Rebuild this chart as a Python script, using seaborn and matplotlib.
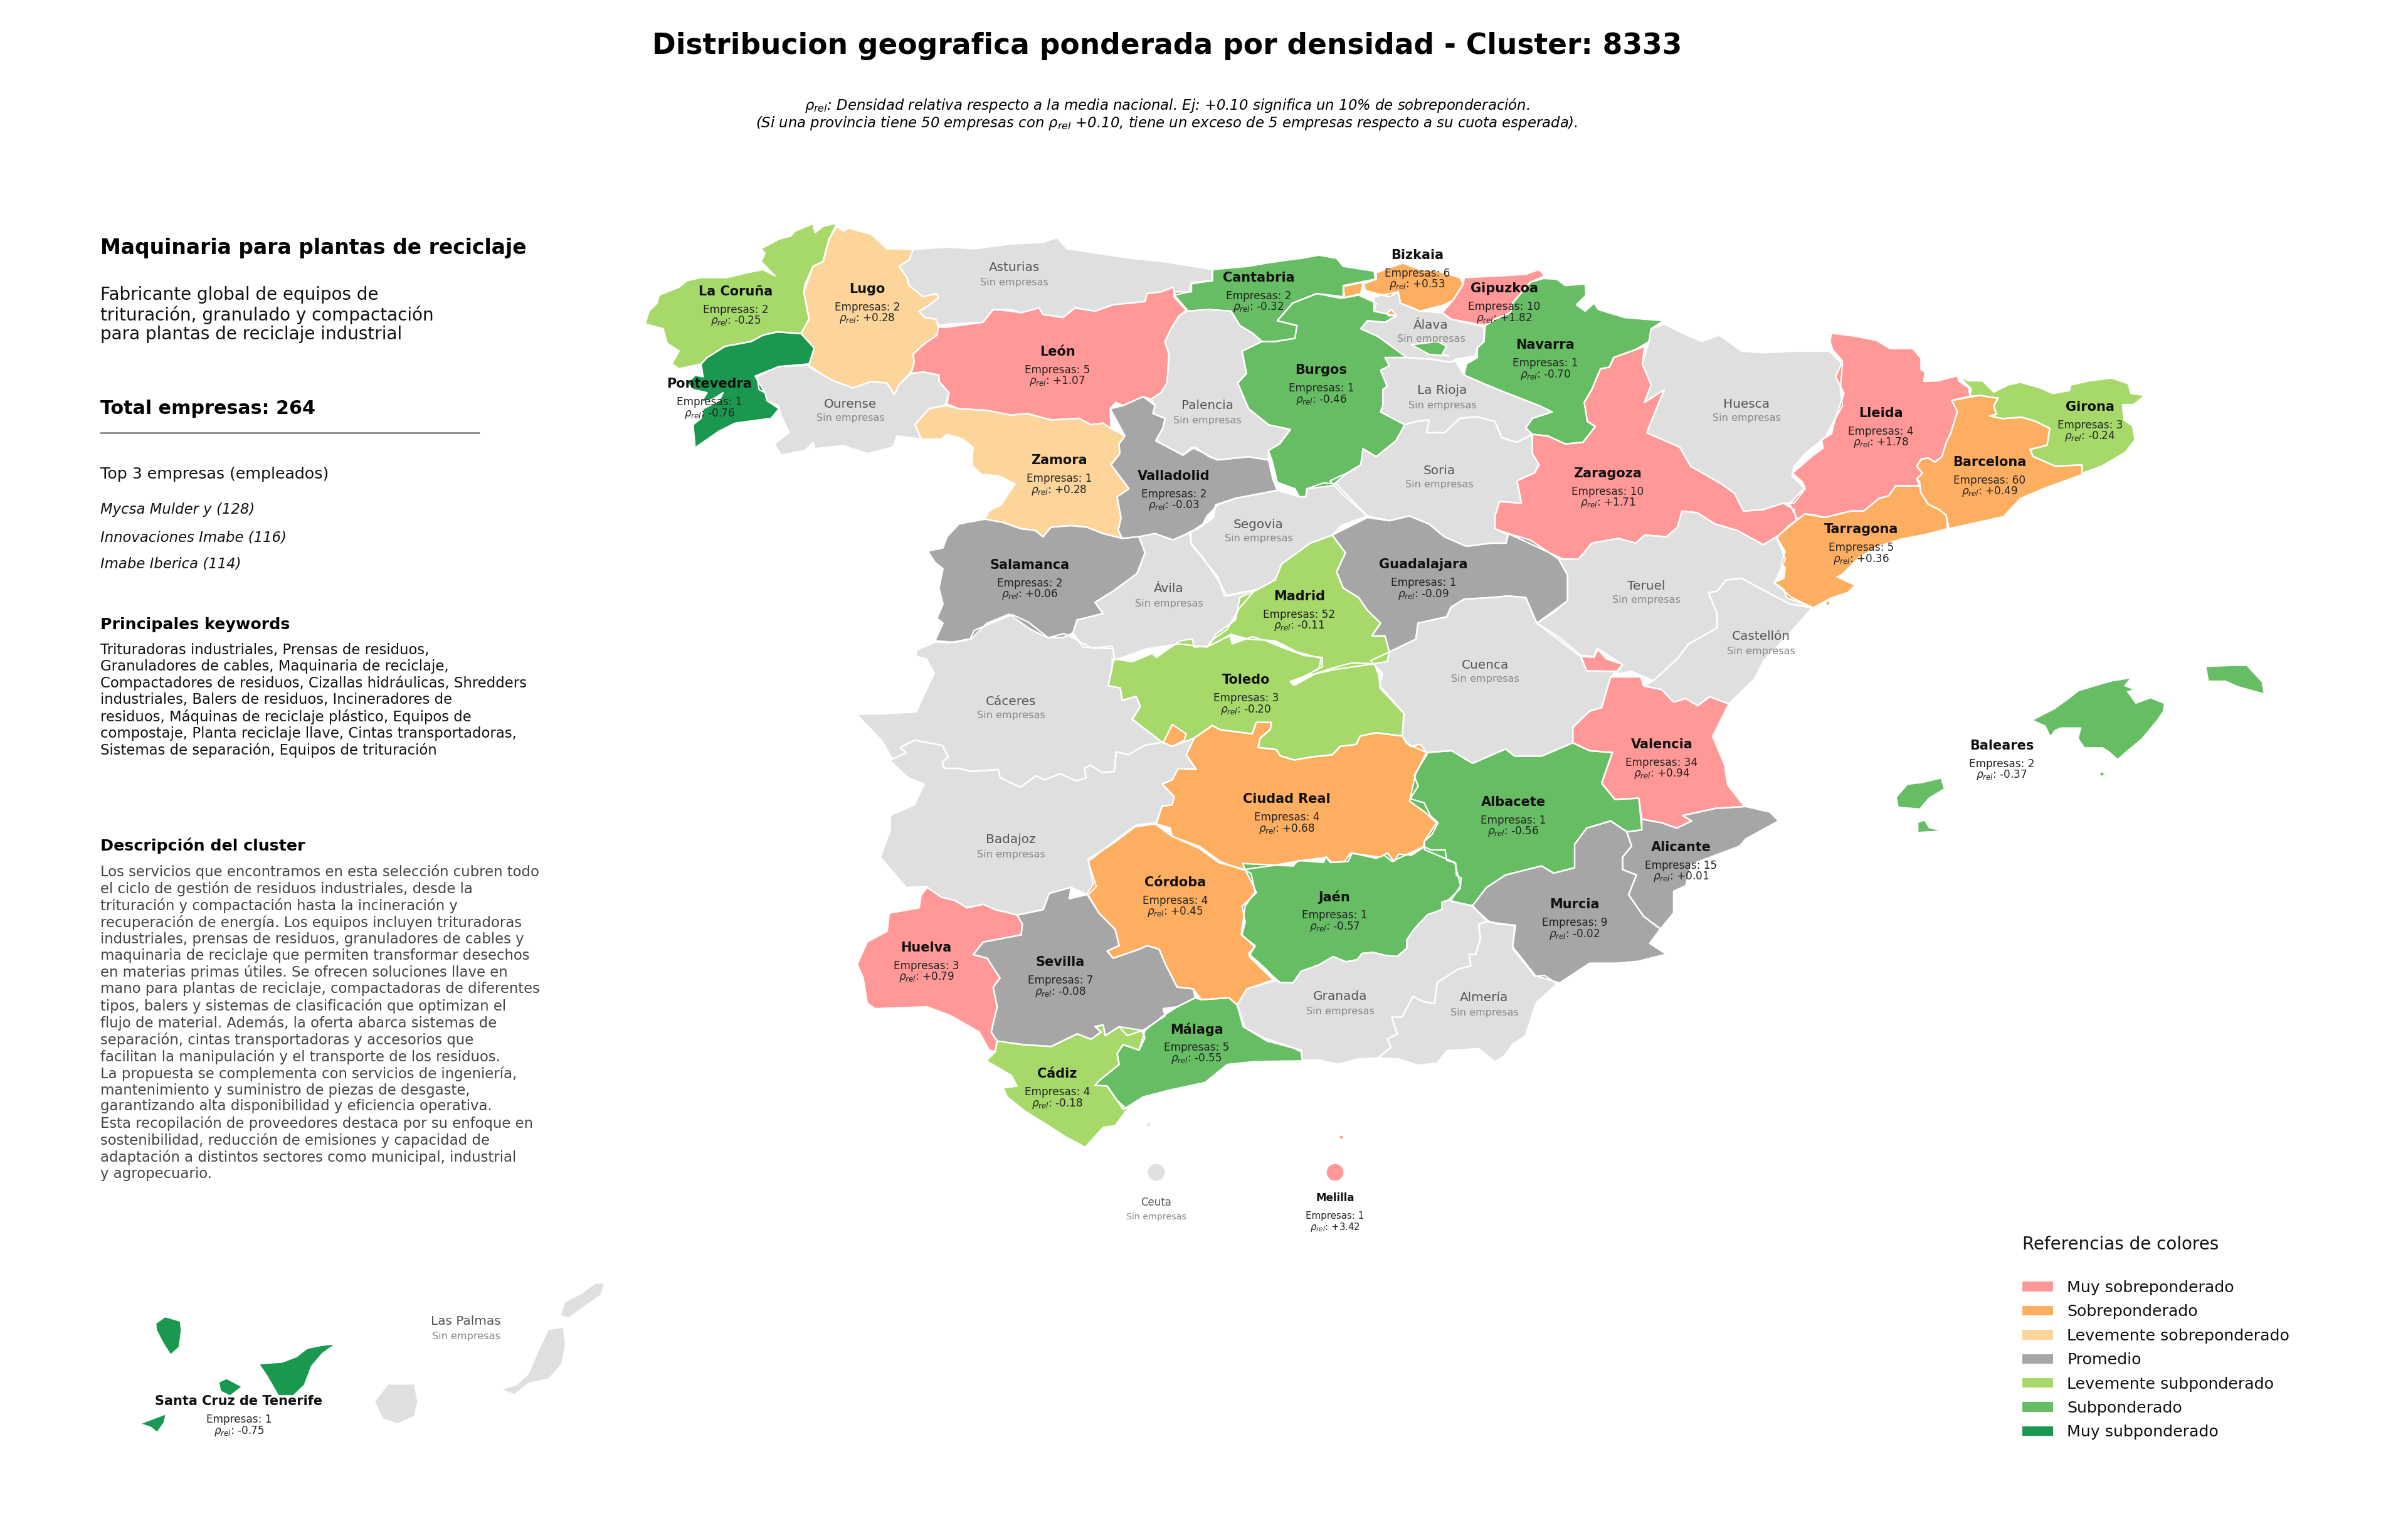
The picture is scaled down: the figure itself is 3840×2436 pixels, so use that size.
"""Choropleth of Spanish provinces: relative company density for cluster 8333."""

import matplotlib
matplotlib.use('Agg')
import matplotlib.pyplot as plt
from matplotlib.patches import Patch
import pandas as pd
import seaborn as sns

NW = (1000, 320, 1.568, 1.96)
NE = (1900, 320, 1.4255, 1.96)
SW = (1300, 1100, 1.568, 1.742)
SE = (2200, 950, 1.045, 1.742)
CT = (2800, 500, 2.24, 2.24)
MID = (1340, 950, 1.568, 3.0)
SO = (1950, 1300, 1.96, 3.0)
CAN = (100, 1330, 1.742, 1.493)


def crop(frame, pts):
    x0, y0, sx, sy = frame
    return [(x0 + x / sx, y0 + y / sy) for x, y in pts]


LA_CORUNA = crop(NW, [(525,70),(505,120),(490,190),(465,205),(445,260),(442,285),(455,370),(435,415),(375,410),(340,420),(310,440),(245,455),(200,490),(185,510),(130,525),(112,510),(130,470),(100,445),(90,400),(45,385),(55,345),(75,320),(80,295),(130,270),(150,250),(185,240),(250,240),(300,225),(340,215),(370,235),(335,190),(345,165),(335,150),(380,120),(410,110),(420,95),(465,72),(470,100),(490,80)])
LUGO = crop(NW, [(525,80),(540,95),(555,85),(580,95),(610,105),(650,150),(715,152),(705,185),(680,205),(700,240),(705,265),(740,300),(775,290),(778,305),(745,335),(730,345),(745,365),(772,370),(778,395),(775,420),(740,450),(715,480),(718,505),(710,535),(680,575),(668,605),(650,570),(610,565),(565,585),(520,565),(490,545),(455,515),(468,460),(435,415),(455,370),(442,285),(465,205),(490,190),(505,120)])
ASTURIAS = crop(NW, [(715,152),(800,145),(870,150),(960,135),(1040,130),(1075,115),(1100,150),(1180,165),(1260,180),(1340,190),(1465,215),(1462,250),(1410,260),(1405,285),(1370,295),(1365,270),(1335,285),(1300,290),(1295,315),(1215,325),(1170,345),(1120,335),(1090,365),(1040,355),(1030,335),(985,350),(960,340),(915,340),(890,380),(810,385),(780,390),(772,370),(745,365),(730,345),(745,335),(778,305),(775,290),(740,300),(705,265),(700,240),(680,205),(705,185)])
LEON = crop(NW, [(915,340),(960,345),(985,350),(1030,335),(1040,355),(1090,365),(1120,335),(1170,345),(1215,325),(1295,315),(1300,290),(1335,285),(1365,270),(1372,300),(1400,340),(1380,360),(1360,400),(1345,440),(1355,480),(1350,570),(1335,600),(1310,620),(1290,612),(1240,640),(1222,630),(1208,650),(1210,712),(1190,695),(1160,700),(1130,680),(1060,685),(1000,665),(960,670),(900,655),(830,650),(800,635),(805,600),(780,565),(780,545),(740,535),(710,540),(718,505),(715,480),(740,450),(775,420),(778,395),(800,395),(890,380)])
ZAMORA = crop(NW, [(795,640),(830,650),(900,655),(960,670),(1000,665),(1060,685),(1130,680),(1160,700),(1190,695),(1210,712),(1245,735),(1230,760),(1232,790),(1210,825),(1255,900),(1225,925),(1235,990),(1228,1030),(1238,1055),(1190,1040),(1150,1020),(1110,1015),(1060,1020),(1040,1050),(1020,1030),(985,1025),(940,1005),(895,995),(905,970),(935,950),(970,885),(930,860),(885,855),(862,825),(865,770),(840,745),(800,730),(785,745),(735,745),(720,700),(755,650)])
OURENSE = crop(NW, [(325,550),(380,518),(450,515),(490,545),(520,565),(565,585),(610,565),(650,570),(668,605),(680,575),(710,540),(740,535),(780,545),(780,565),(805,600),(795,640),(755,650),(720,700),(735,745),(675,735),(665,770),(600,790),(540,765),(470,775),(465,755),(445,780),(385,795),(368,760),(405,725),(385,670),(378,640),(350,625),(345,600),(330,590)])
PONTEVEDRA = crop(NW, [(435,415),(468,460),(455,510),(380,518),(320,548),(345,600),(350,625),(380,650),(360,680),(270,695),(230,720),(170,772),(165,700),(185,680),(190,650),(230,625),(240,600),(215,620),(185,630),(200,600),(165,590),(150,570),(170,545),(190,550),(185,510),(200,490),(245,455),(310,440),(340,420),(375,410)])
VALLADOLID = crop(NW, [(1208,650),(1240,640),(1290,612),(1320,640),(1315,665),(1345,680),(1340,710),(1322,750),(1390,795),(1420,770)]) + crop(NE, [(40,800),(60,810),(130,800),(175,810),(185,870),(195,905),(100,930),(60,950)]) + crop(NW, [(1470,960),(1450,985),(1440,1010),(1410,1035),(1365,1060),(1320,1040),(1280,1050),(1238,1055),(1228,1030),(1235,990),(1225,925),(1255,900),(1210,825),(1232,790),(1230,760),(1245,735)])
SALAMANCA = crop(NW, [(895,995),(940,1005),(985,1025),(1020,1030),(1040,1050),(1060,1020),(1110,1015),(1150,1020),(1190,1040),(1238,1055),(1280,1050),(1295,1100),(1275,1165),(1215,1220),(1170,1255),(1190,1290),(1125,1310),(1115,1350),(1090,1365),(1050,1365),(1010,1340),(955,1292),(900,1320),(860,1370),(820,1380),(770,1375),(790,1320),(775,1305),(790,1260),(780,1210),(790,1150),(770,1130),(752,1095),(790,1085),(800,1050),(830,1010)])
AVILA = crop(NW, [(1280,1050),(1320,1040),(1365,1060),(1410,1035),(1410,1070),(1440,1115),(1480,1190),(1500,1235),(1540,1225),(1571,1215),(1530,1275),(1500,1340),(1460,1375),(1450,1395),(1380,1385),(1300,1400),(1220,1435),(1215,1400),(1140,1395),(1115,1350),(1125,1310),(1190,1290),(1170,1255),(1215,1220),(1275,1165),(1295,1100)])
SEGOVIA = crop(NE, [(100,930),(195,905),(245,925),(260,925),(262,900),(300,882),(330,885),(375,950),(400,985),(340,1015),(320,1045),(270,1070),(205,1135),(190,1185),(150,1215),(110,1225),(75,1235),(60,1175),(0,1075),(-5,1035),(15,1025),(50,990),(55,950)])
BURGOS = crop(NE, [(285,290),(340,305),(380,295),(420,320),(415,345),(465,360),(440,380),(400,375),(385,400),(425,425),(470,470),(490,490),(440,490),(450,515),(430,530),(445,580),(435,590),(435,640),(430,660),(485,700),(465,750),(420,800),(390,775),(385,825),(355,850),(320,890),(265,900),(260,925),(245,925),(235,900),(195,880),(185,820),(175,780),(200,760),(225,715),(175,700),(130,650),(105,570),(125,540),(115,470),(160,440),(190,440),(235,430),(240,390),(195,375),(230,320)])
TREVINO = crop(NE, [(500,450),(560,440),(580,455),(570,480),(585,485),(540,480)])
CANTABRIA = crop(NE, [(48,215),(130,205),(170,195),(220,185),(250,180),(290,170),(330,180),(345,205),(415,220),(418,245),(345,265),(345,300),(285,290),(230,320),(195,375),(240,390),(235,430),(190,440),(160,440),(140,415),(110,390),(90,345),(40,340),(-10,345),(-40,300),(-40,285),(0,285),(0,255),(48,250)])
PALENCIA = crop(NE, [(-10,345),(40,340),(90,345),(110,390),(140,415),(160,440),(115,470),(125,540),(105,570),(130,650),(175,700),(225,715),(200,760),(175,780),(175,810),(130,800),(60,810),(30,790),(0,770)]) + crop(NW, [(1390,795),(1322,750),(1340,710),(1345,680),(1315,665),(1320,640),(1310,620),(1335,600),(1350,570),(1355,480),(1345,440),(1360,400),(1380,360)])
ALAVA = crop(NE, [(415,300),(470,285),(475,320),(520,345),(570,350),(590,370),(665,395),(665,440),(650,460),(645,485),(600,495),(590,505),(545,495),(490,490),(470,470),(425,425),(385,400),(400,375),(440,380),(465,360),(415,345)])
BIZKAIA = crop(NE, [(420,225),(480,195),(520,215),(560,220),(610,240),(618,260),(595,310),(575,325),(520,345),(475,320),(470,285),(450,300),(420,290),(395,280),(392,260),(420,245)])
BIZKAIA_WEST = crop(NE, [(345,268),(390,255),(385,290),(348,303)])
BIZKAIA_SOUTH = crop(NE, [(445,350),(455,340),(465,358),(448,360)])
GIPUZKOA = crop(NE, [(620,240),(700,235),(760,230),(790,215),(803,235),(770,255),(730,320),(725,350),(690,370),(668,390),(590,370),(570,350),(595,310),(618,260)])
NAVARRA = crop(NE, [(770,255),(800,243),(830,245),(850,265),(895,260),(897,295),(875,325),(895,345),(915,320),(925,340),(985,365),(1073,375),(1045,400),(1040,440),(1010,465),(960,490),(950,520),(930,525),(910,590),(893,630),(900,690),(918,705),(890,755),(850,760),(810,735),(775,730),(760,710),(775,680),(820,660),(790,640),(715,600),(670,575),(620,545),(625,510),(650,490),(650,460),(665,440),(668,390),(690,370),(725,350),(730,320)])
LA_RIOJA = crop(NE, [(440,490),(470,490),(490,490),(545,495),(590,505),(600,500),(620,545),(670,575),(715,600),(790,640),(820,660),(775,680),(760,710),(775,730),(740,755),(705,740),(690,690),(650,675),(610,680),(575,725),(535,725),(540,685),(510,690),(485,700),(430,660),(435,640),(435,590),(445,580),(430,530),(450,515)])
SORIA = crop(NE, [(485,700),(510,690),(540,685),(535,725),(575,725),(610,680),(650,675),(690,690),(705,740),(740,755),(775,730),(775,790),(790,825),(780,850),(740,875),(750,945),(700,940),(690,985),(690,1025),(720,1045),(715,1070),(680,1070),(625,1080),(575,1050),(540,1010),(495,985),(450,1000),(400,985),(345,920),(315,875),(355,850),(385,825),(390,775),(420,800),(465,750)])
GUADALAJARA = crop(NE, [(320,1045),(400,990),(450,1000),(495,985),(540,1010),(575,1050),(625,1080),(680,1070),(715,1070),(720,1040),(770,1060),(835,1120),(855,1170),(855,1250),(820,1290),(785,1320),(760,1240),(720,1235),(680,1240),(620,1245),(590,1270),(580,1300),(515,1320),(510,1370),(450,1410),(440,1360),(410,1360),(430,1320),(400,1280),(380,1240),(345,1210),(330,1160),(350,1100)])
MADRID = crop(NE, [(320,1045),(350,1100),(330,1160),(345,1210),(380,1240),(400,1280),(430,1320),(410,1360),(440,1360),(450,1410),(445,1440),(400,1450),(325,1465),(260,1485),(230,1510),(290,1460),(295,1430),(240,1410),(190,1375),(130,1370),(90,1355),(50,1385),(40,1390),(55,1355),(100,1310),(110,1240),(150,1215),(190,1185),(205,1135),(270,1070)])
ZARAGOZA = crop(NE, [(1030,455),(1025,510),(1045,575),(1030,630),(1075,590),(1060,640),(1035,725),(1110,770),(1135,830),(1205,885),(1235,915),(1255,970),(1300,965),(1345,945),(1370,965),(1375,1000),(1330,1050),(1300,1075),(1240,1030),(1190,1010),(1150,975),(1115,970),(1105,1020),(1080,1050),(1030,1045),(1010,1070),(970,1055),(910,1070),(880,1120),(845,1120),(720,1040),(690,1025),(690,985),(700,940),(750,945),(740,875),(780,850),(790,825),(775,790),(775,730),(810,735),(850,760),(890,755),(918,705),(900,690),(893,630),(910,590),(930,525),(950,520),(960,490),(1010,465)])
HUESCA = crop(NE, [(1045,400),(1075,385),(1110,410),(1160,440),(1200,420),(1250,470),(1300,475),(1370,470),(1450,470),(1480,510),(1475,590),(1480,640),(1440,740),(1395,790),(1370,830),(1365,860),(1395,900),(1370,945),(1345,945),(1300,965),(1255,970),(1235,915),(1205,885),(1135,830),(1110,770),(1035,725),(1060,640),(1075,590),(1030,630),(1045,575),(1025,510),(1040,440)])
TERUEL = crop(NE, [(880,1120),(910,1070),(970,1055),(1010,1070),(1030,1045),(1080,1050),(1105,1020),(1115,970),(1150,975),(1190,1010),(1240,1030),(1300,1075),(1330,1050),(1350,1120),(1325,1195),(1365,1240),(1410,1270),(1360,1260),(1250,1180),(1215,1185),(1195,1220),(1175,1225),(1195,1290),(1195,1335),(1130,1385),(1105,1430),(1050,1500),(1000,1470),(965,1480),(980,1450),(925,1400),(915,1425),(880,1420),(785,1320),(855,1250),(855,1170),(835,1120)])
CASTELLON = crop(NE, [(1410,1272),(1360,1260),(1250,1180),(1215,1185),(1195,1220),(1175,1225),(1195,1290),(1195,1335),(1130,1385),(1105,1430),(1050,1500)]) + crop(SE, [(440,250),(470,260),(490,295),(510,285),(530,305),(550,280),(582,300),(625,230),(640,180),(680,110),(720,35)])
CUENCA = crop(NE, [(450,1410),(510,1370),(515,1320),(580,1300),(590,1270),(620,1245),(680,1240),(720,1235),(760,1240),(785,1320)]) + crop(SE, [(300,115),(335,165),(345,208),(395,210),(385,225),(370,310),(350,320),(322,365),(322,408),(270,445),(225,445),(210,425),(155,465),(120,430),(78,435),(45,410),(38,390),(40,325),(0,255),(5,215),(-15,180)])
LLEIDA = crop(CT, [(270,70),(350,80),(430,95),(480,125),(560,125),(590,160),(590,200),(605,210),(600,242),(650,240),(720,222),(725,240),(760,265),(765,295),(700,310),(720,350),(695,430),(680,460),(665,510),(640,530),(615,515),(590,520),(575,545),(595,570),(575,590),(585,615),(500,615),(475,650),(440,660),(385,705),(340,705),(245,728),(175,715),(150,735),(120,680),(175,620),(165,600),(130,570),(200,510),(240,480),(235,450),(270,430),(285,370),(315,285),(285,225),(310,170),(275,130),(265,100)])
GIRONA = crop(CT, [(725,222),(760,240),(810,240),(850,280),(900,255),(945,245),(1015,265),(1060,285),(1120,275),(1125,255),(1190,240),(1270,230),(1330,250),(1340,285),(1390,292),(1350,325),(1310,325),(1315,380),(1345,400),(1355,450),(1320,495),(1235,545),(1165,570),(1165,540),(1070,545),(990,510),(980,485),(1040,470),(1050,410),(1000,385),(950,370),(880,375),(835,365),(860,360),(850,330),(865,302),(800,292),(765,295),(770,270)])
BARCELONA = crop(CT, [(700,310),(800,292),(865,302),(850,330),(860,360),(835,365),(880,375),(950,370),(1000,385),(1050,410),(1040,470),(980,485),(990,510),(1070,545),(1165,540),(1165,575),(1040,620),(945,660),(885,725),(690,768),(680,720),(655,700),(615,680),(590,640),(585,600),(575,590),(595,570),(575,545),(590,520),(615,515),(640,530),(665,510),(680,460),(695,430),(720,350)])
TARRAGONA = crop(CT, [(150,735),(175,715),(215,720),(245,728),(340,705),(385,705),(440,660),(475,650),(500,615),(585,615),(590,640),(615,680),(655,700),(680,720),(685,768),(600,790),(520,805),(440,830),(370,870),(310,930),(290,940),(355,970),(330,995),(270,1015),(205,1050),(110,1015),(100,985),(65,960),(100,945),(105,905),(90,895),(105,850),(75,800),(120,755)])
CACERES = crop(MID, [(190,260),(240,220),(270,225),(325,205),(335,165),(385,125),(430,90),(470,125),(520,200),(560,180),(590,210),(630,250),(680,240),(685,298),(680,340),(670,430),(700,440),(705,500),(740,480),(750,530),(730,590),(805,700),(760,715),(720,760),(690,745),(685,840),(655,845),(625,810),(610,825),(615,870),(590,885),(550,850),(510,880),(490,860),(450,915),(400,870),(395,830),(330,840),(295,825),(260,825),(255,795),(270,770),(255,715),(185,690),(150,725),(165,750),(130,780),(105,695),(40,565),(100,565),(190,555),(210,470),(235,370),(215,300),(190,290)])
BADAJOZ = crop(MID, [(130,780),(165,750),(150,725),(185,690),(255,715),(270,770),(255,795),(260,825),(295,825),(330,840),(395,830),(400,870),(450,915),(490,860),(510,880),(550,850),(590,885),(615,870),(610,825),(625,810),(655,845),(685,840),(690,745),(720,760),(760,715),(805,700),(830,720),(885,680),(865,760),(890,830),(845,825),(830,880),(805,900),(835,960),(830,1000),(805,1005),(790,1085),(740,1095),(680,1180),(620,1270),(640,1390),(620,1430)]) + crop(SW, [(640,548),(585,565),(570,610),(505,625),(450,610),(420,595),(380,605),(350,585),(315,575),(280,548)]) + crop(MID, [(215,1390),(165,1395),(100,1250),(125,1120),(125,1050),(185,1000),(210,900),(170,870),(125,790)])
TOLEDO = crop(MID, [(680,300),(730,315),(780,275),(790,295),(815,260),(850,215),(880,205),(885,245),(920,240),(975,190),(980,230),(1030,195),(1065,215),(1110,250),(1160,285),(1205,295),(1205,340),(1160,385),(1125,410),(1135,428),(1190,370),(1240,340),(1280,320),(1335,325),(1345,370),(1350,430),(1410,565),(1405,670),(1340,655),(1300,670),(1290,710),(1250,720),(1230,760),(1180,770),(1135,785),(1100,765),(1090,735),(1045,725),(1050,680),(1075,640),(1078,605),(1040,605),(1030,660),(950,640),(930,620),(900,660),(885,680),(830,720),(805,700),(730,590),(750,530),(740,480),(705,500),(700,440),(670,430),(680,340)])
CIUDAD_REAL = crop(MID, [(885,680),(930,620),(950,640),(1030,660),(1040,605),(1078,605),(1075,640),(1050,680),(1045,725),(1090,735),(1100,765),(1135,785),(1180,770),(1230,760),(1250,720),(1290,710),(1300,670),(1340,655),(1405,670),(1425,720),(1450,710),(1468,755),(1450,810),(1435,860),(1445,910),(1425,970),(1460,990),(1475,1050),(1495,1085),(1480,1140),(1460,1175),(1458,1200),(1380,1270),(1360,1240),(1340,1255),(1280,1230),(1270,1270),(1225,1275),(1215,1250),(1140,1270),(1080,1290),(1005,1310),(950,1270),(900,1200),(830,1150),(825,1110),(790,1090),(805,1005),(830,1000),(835,960),(805,900),(830,880),(845,825),(890,830),(865,760)])
CIUDAD_REAL_ENCLAVE = crop(MID, [(830,615),(865,660),(860,690),(830,720),(808,700)])
CORDOBA = crop(SW, [(850,372),(890,405),(960,440),(1010,480),(1070,497),(1090,510),(1100,560),(1075,600),(1065,680),(1100,710),(1085,740),(1145,805),(1080,830),(1055,875),(1035,855),(965,860),(945,830),(905,825),(875,760),(860,720),(830,710),(810,720),(745,745),(730,725),(760,710),(750,665),(710,620),(680,565),(695,540),(682,470),(740,430),(800,380)])
SEVILLA = crop(SW, [(505,625),(570,610),(585,565),(640,548),(635,580),(680,568),(710,620),(750,665),(760,710),(730,725),(745,745),(810,720),(830,710),(860,720),(875,760),(905,825),(945,830),(950,855),(905,880),(870,885),(875,905),(820,945),(780,960),(760,935),(725,960),(720,930),(700,935),(715,950),(690,970),(655,955),(590,990),(520,985),(455,975),(440,950),(455,880),(445,825),(462,800),(430,745),(395,735),(420,700),(515,680),(518,650)])
HUELVA = crop(SW, [(280,548),(315,575),(350,585),(380,605),(420,595),(450,610),(505,625),(518,650),(515,680),(420,700),(395,735),(430,745),(462,800),(445,825),(455,880),(440,950),(455,975),(450,1005),(435,1000),(410,950),(340,905),(280,880),(150,885),(130,870),(120,800),(105,762),(130,700),(180,670),(185,620),(260,605),(265,570)])
CADIZ = crop(SW, [(455,975),(520,985),(590,990),(655,955),(690,970),(715,950),(700,935),(720,930),(725,960),(760,935),(815,945),(825,965),(810,1000),(770,985),(755,1010),(760,1040),(710,1085),(700,1098),(730,1100),(755,1140),(780,1165),(750,1210),(720,1215),(675,1270),(625,1240),(590,1215),(525,1170),(480,1130),(470,1105),(505,1100),(490,1070),(428,1030),(450,1005)])
MALAGA = crop(SW, [(825,945),(870,905),(905,880),(950,855),(965,860),(1035,855),(1055,875),(1070,935),(1130,975),(1215,1000),(1218,1030),(1100,1032),(1030,1040),(975,1090),(890,1110),(820,1130),(770,1165),(755,1140),(730,1100),(700,1098),(710,1085),(760,1040),(755,1010),(770,985),(810,1000)])
JAEN = crop(SO, [(62,230),(220,242),(235,215),(315,225),(322,195),(340,225),(380,220),(400,180),(490,200),(515,180),(535,220),(550,185),(590,190),(630,150),(650,165),(695,165),(700,215),(728,228),(730,285),(745,300),(742,350),(705,405),(685,415),(685,450),(640,475),(600,540),(575,595),(575,635),(545,675),(510,670),(470,655),(435,660),(420,690),(385,700),(345,675),(300,715),(245,745),(220,800),(180,800),(150,760),(135,735),(80,660),(100,630),(60,570),(70,510),(60,435),(105,370),(90,320),(70,260)])
GRANADA = crop(SO, [(45,905),(75,830),(165,790),(180,800),(220,800),(245,745),(300,715),(345,675),(385,700),(420,690),(435,660),(470,655),(510,670),(545,675),(575,635),(575,595),(600,540),(640,475),(685,450),(685,415),(705,405),(780,435),(830,505),(800,520),(805,590),(790,665),(770,665),(775,720),(735,735),(670,800),(662,900),(625,890),(595,865),(560,965),(528,965),(545,1045),(515,1068),(525,1110),(485,1160),(420,1165),(360,1190),(300,1170),(265,1170),(248,1165),(245,1130),(210,1105),(130,1065),(70,1015)])
ALMERIA = crop(SO, [(830,505),(860,520),(915,525),(905,635),(975,770),(1005,765),(1045,805),(980,895),(945,1055),(905,1095),(880,1150),(850,1178),(800,1115),(750,1120),(700,1125),(670,1185),(610,1195),(550,1165),(485,1160),(525,1110),(515,1068),(545,1045),(528,965),(560,965),(595,865),(625,890),(662,900),(670,800),(735,735),(775,720),(770,665),(790,665),(805,590),(800,520)])
ALBACETE = crop(SE, [(78,435),(120,430),(155,465),(210,425),(225,445),(270,445),(322,408),(350,430),(388,435),(370,520),(392,565),(432,562),(437,650),(412,655),(385,625),(345,645),(325,690),(325,755),(290,770),(270,750),(210,775),(178,810),(155,860),(118,848),(135,805),(125,740),(75,705),(75,680),(95,630),(75,600),(50,570),(60,495)])
MURCIA = crop(SE, [(155,860),(178,810),(210,775),(270,750),(290,770),(325,755),(325,690),(345,645),(385,625),(412,655),(420,695),(405,725),(405,760),(428,775),(415,830),(440,890),(468,925),(450,965),(478,995),(430,1015),(395,1020),(350,1020),(300,1075),(260,1055),(222,975),(225,915),(180,905)])
ALICANTE = crop(SE, [(437,620),(470,630),(495,645),(520,625),(505,610),(560,590),(610,585),(650,600),(665,625),(610,675),(600,695),(520,745),(510,805),(490,820),(490,880),(468,925),(440,890),(415,830),(428,775),(405,760),(405,725),(420,695),(412,655),(437,650)])
VALENCIA = crop(SE, [(385,225),(435,225),(440,250),(470,260),(490,295),(510,285),(530,305),(550,280),(582,300),(555,390),(575,470),(580,525),(608,585),(560,590),(505,610),(520,625),(495,645),(470,630),(437,620),(432,562),(392,565),(370,520),(388,435),(350,430),(322,408),(322,365),(350,320),(370,310)])
VALENCIA_ENCLAVE = crop(SE, [(335,168),(358,170),(362,145),(378,175),(405,190),(395,210),(345,208)])
MALLORCA = crop(SE, [(1090,345),(1125,315),(1150,285),(1165,265),(1195,250),(1220,238),(1250,230),(1240,250),(1255,260),(1245,265),(1260,300),(1285,285),(1307,300),(1305,320),(1295,345),(1270,395),(1245,430),(1230,452),(1215,430),(1205,420),(1175,420),(1165,395),(1170,365),(1135,365),(1125,372),(1118,388),(1110,360)])
MENORCA = crop(SE, [(1378,198),(1420,195),(1445,195),(1470,240),(1473,270),(1430,250),(1410,235),(1382,235)])
IBIZA = crop(SE, [(862,560),(880,525),(905,520),(935,508),(940,535),(915,560),(900,590),(865,585)])
FORMENTERA = crop(SE, [(898,630),(908,625),(915,645),(932,652),(898,655)])
LA_PALMA = crop(CAN, [(260,1165),(285,1150),(325,1160),(328,1180),(322,1220),(300,1237),(280,1210),(262,1180)])
LA_GOMERA = crop(CAN, [(435,1305),(455,1297),(495,1315),(465,1335),(440,1325)])
TENERIFE = crop(CAN, [(548,1262),(610,1258),(650,1245),(680,1225),(720,1218),(752,1215),(720,1235),(690,1265),(670,1310),(640,1335),(600,1335),(570,1290)])
EL_HIERRO = crop(CAN, [(220,1403),(260,1390),(285,1382),(280,1400),(262,1422),(245,1410)])
GRAN_CANARIA = crop(CAN, [(868,1350),(905,1310),(975,1310),(985,1350),(975,1385),(930,1402),(890,1390)])
FUERTEVENTURA = crop(CAN, [(1222,1322),(1260,1312),(1295,1285),(1320,1235),(1350,1180),(1390,1175),(1395,1215),(1385,1260),(1350,1295),(1295,1305),(1255,1332)])
LANZAROTE = crop(CAN, [(1385,1145),(1395,1115),(1440,1095),(1480,1070),(1503,1070),(1495,1095),(1445,1125),(1405,1150)])

# province, companies, relative density, label centre
PROVINCES = ['La Coruña', 'Lugo', 'Asturias', 'León', 'Pontevedra', 'Ourense', 'Zamora', 'Valladolid',
             'Salamanca', 'Ávila', 'Palencia', 'Bizkaia', 'Cantabria', 'Gipuzkoa', 'Álava', 'Navarra',
             'Burgos', 'La Rioja', 'Huesca', 'Soria', 'Zaragoza', 'Segovia', 'Guadalajara', 'Madrid',
             'Teruel', 'Castellón', 'Cuenca', 'Lleida', 'Girona', 'Barcelona', 'Tarragona', 'Toledo',
             'Cáceres', 'Ciudad Real', 'Badajoz', 'Córdoba', 'Jaén', 'Huelva', 'Sevilla', 'Granada',
             'Málaga', 'Cádiz', 'Almería', 'Alicante', 'Murcia', 'Valencia', 'Albacete', 'Baleares',
             'Las Palmas', 'Santa Cruz de Tenerife']
EMPRESAS = [2, 2, 0, 5, 1, 0, 1, 2,
            2, 0, 0, 6, 2, 10, 0, 1,
            1, 0, 0, 0, 10, 0, 1, 52,
            0, 0, 0, 4, 3, 60, 5, 3,
            0, 4, 0, 4, 1, 3, 7, 0,
            5, 4, 0, 15, 9, 34, 1, 2,
            0, 1]
RHO_REL = [-0.25, 0.28, None, 1.07, -0.76, None, 0.28, -0.03,
           0.06, None, None, 0.53, -0.32, 1.82, None, -0.70,
           -0.46, None, None, None, 1.71, None, -0.09, -0.11,
           None, None, None, 1.78, -0.24, 0.49, 0.36, -0.20,
           None, 0.68, None, 0.45, -0.57, 0.79, -0.08, None,
           -0.55, -0.18, None, 0.01, -0.02, 0.94, -0.56, -0.37,
           None, -0.75]
LABEL_X = [1173, 1383, 1617, 1686, 1131, 1356, 1689, 1872,
           1642, 1864, 1925, 2260, 2007, 2399, 2282, 2464,
           2107, 2300, 2785, 2295, 2564, 2007, 2270, 2072,
           2625, 2808, 2368, 2999, 3333, 3173, 2968, 1987,
           1612, 2052, 1612, 1874, 2128, 1477, 1691, 2137,
           1908, 1686, 2367, 2681, 2511, 2650, 2413, 3192,
           743, 381]
LABEL_Y = [465, 461, 427, 561, 612, 644, 734, 759,
           901, 939, 647, 407, 443, 460, 518, 550,
           590, 623, 644, 750, 755, 836, 900, 951,
           934, 1015, 1060, 659, 649, 737, 844, 1084,
           1118, 1274, 1339, 1407, 1430, 1511, 1534, 1589,
           1641, 1712, 1591, 1351, 1442, 1187, 1279, 1189,
           2107, 2234]

SHAPES = {
    'La Coruña': [LA_CORUNA], 'Lugo': [LUGO], 'Asturias': [ASTURIAS], 'León': [LEON],
    'Pontevedra': [PONTEVEDRA], 'Ourense': [OURENSE], 'Zamora': [ZAMORA], 'Valladolid': [VALLADOLID],
    'Salamanca': [SALAMANCA], 'Ávila': [AVILA], 'Palencia': [PALENCIA], 'Segovia': [SEGOVIA],
    'Cantabria': [CANTABRIA], 'Álava': [ALAVA], 'Burgos': [BURGOS, TREVINO],
    'Bizkaia': [BIZKAIA, BIZKAIA_WEST, BIZKAIA_SOUTH], 'Gipuzkoa': [GIPUZKOA], 'Navarra': [NAVARRA],
    'La Rioja': [LA_RIOJA], 'Huesca': [HUESCA], 'Soria': [SORIA], 'Zaragoza': [ZARAGOZA],
    'Guadalajara': [GUADALAJARA], 'Madrid': [MADRID], 'Teruel': [TERUEL], 'Castellón': [CASTELLON],
    'Cuenca': [CUENCA], 'Lleida': [LLEIDA], 'Girona': [GIRONA], 'Barcelona': [BARCELONA],
    'Tarragona': [TARRAGONA], 'Toledo': [TOLEDO], 'Cáceres': [CACERES],
    'Ciudad Real': [CIUDAD_REAL, CIUDAD_REAL_ENCLAVE], 'Badajoz': [BADAJOZ], 'Córdoba': [CORDOBA],
    'Jaén': [JAEN], 'Huelva': [HUELVA], 'Sevilla': [SEVILLA], 'Granada': [GRANADA], 'Málaga': [MALAGA],
    'Cádiz': [CADIZ], 'Almería': [ALMERIA], 'Alicante': [ALICANTE], 'Murcia': [MURCIA],
    'Valencia': [VALENCIA, VALENCIA_ENCLAVE], 'Albacete': [ALBACETE],
    'Baleares': [MALLORCA, MENORCA, IBIZA, FORMENTERA],
    'Las Palmas': [GRAN_CANARIA, FUERTEVENTURA, LANZAROTE],
    'Santa Cruz de Tenerife': [LA_PALMA, LA_GOMERA, TENERIFE, EL_HIERRO],
}
# islands have no shared borders, so they get no white outline
ISLANDS = ['Baleares', 'Las Palmas', 'Santa Cruz de Tenerife']

CATEGORIES = ['Muy sobreponderado', 'Sobreponderado', 'Levemente sobreponderado', 'Promedio',
              'Levemente subponderado', 'Subponderado', 'Muy subponderado']
CATEGORY_COLORS = ['#FF9896', '#FDAE61', '#FDD49A', '#A6A6A6', '#A6D96A', '#66BD63', '#1A9850']
NO_DATA_COLOR = '#DFDFDF'

# Ceuta and Melilla are shown as dots below the peninsula
CITY_NAMES = ['Ceuta', 'Melilla']
CITY_EMPRESAS = [0, 1]
CITY_RHO = [None, 3.42]
CITY_X = [1844, 2129]
CITY_Y = [1869, 1869]
CITY_LABEL_Y = [1917, 1910]
# the true tiny territories and islets, barely visible
ISLET_NAMES = ['Melilla', 'Ceuta', 'Cabrera', 'Columbretes']
ISLET_X = [2139, 1832, 3352, 2915]
ISLET_Y = [1813, 1793, 1234, 962]
ISLET_RHO = [3.42, None, -0.37, 0.36]

TITLE = 'Distribucion geografica ponderada por densidad - Cluster: 8333'
NOTE_1 = r'$\rho_{rel}$: Densidad relativa respecto a la media nacional. Ej: +0.10 significa un 10% de sobreponderación.'
NOTE_2 = r'(Si una provincia tiene 50 empresas con $\rho_{rel}$ +0.10, tiene un exceso de 5 empresas respecto a su cuota esperada).'
PANEL_TITLE = 'Maquinaria para plantas de reciclaje'
PANEL_SUBTITLE = ['Fabricante global de equipos de', 'trituración, granulado y compactación',
                  'para plantas de reciclaje industrial']
TOP_COMPANIES = ['Mycsa Mulder y (128)', 'Innovaciones Imabe (116)', 'Imabe Iberica (114)']
KEYWORDS = """Trituradoras industriales, Prensas de residuos,
Granuladores de cables, Maquinaria de reciclaje,
Compactadores de residuos, Cizallas hidráulicas, Shredders
industriales, Balers de residuos, Incineradores de
residuos, Máquinas de reciclaje plástico, Equipos de
compostaje, Planta reciclaje llave, Cintas transportadoras,
Sistemas de separación, Equipos de trituración"""
DESCRIPTION = """Los servicios que encontramos en esta selección cubren todo
el ciclo de gestión de residuos industriales, desde la
trituración y compactación hasta la incineración y
recuperación de energía. Los equipos incluyen trituradoras
industriales, prensas de residuos, granuladores de cables y
maquinaria de reciclaje que permiten transformar desechos
en materias primas útiles. Se ofrecen soluciones llave en
mano para plantas de reciclaje, compactadoras de diferentes
tipos, balers y sistemas de clasificación que optimizan el
flujo de material. Además, la oferta abarca sistemas de
separación, cintas transportadoras y accesorios que
facilitan la manipulación y el transporte de los residuos.
La propuesta se complementa con servicios de ingeniería,
mantenimiento y suministro de piezas de desgaste,
garantizando alta disponibilidad y eficiencia operativa.
Esta recopilación de proveedores destaca por su enfoque en
sostenibilidad, reducción de emisiones y capacidad de
adaptación a distintos sectores como municipal, industrial
y agropecuario."""


def category_color(rho):
    """Map a relative density onto the seven colour classes."""
    if rho is None:
        return NO_DATA_COLOR
    if rho > 0.7:
        return CATEGORY_COLORS[0]
    if rho > 0.3:
        return CATEGORY_COLORS[1]
    if rho > 0.1:
        return CATEGORY_COLORS[2]
    if rho >= -0.1:
        return CATEGORY_COLORS[3]
    if rho >= -0.3:
        return CATEGORY_COLORS[4]
    if rho >= -0.7:
        return CATEGORY_COLORS[5]
    return CATEGORY_COLORS[6]


def draw_label(ax, x, y, name, count, rho, small=False):
    name_size, body_size = (6.0, 5.4) if small else (7.5, 6.1)
    if rho is None:
        ax.text(x, y, name, ha='center', va='center', fontsize=name_size - (0 if small else 0.3),
                color='#555555', zorder=5)
        ax.text(x, y + 23, 'Sin empresas', ha='center', va='center', fontsize=body_size - 0.3,
                color='#888888', zorder=5)
    else:
        ax.text(x, y, name, ha='center', va='center', fontsize=name_size, fontweight='bold',
                color='#111111', zorder=5)
        ax.text(x, y + 29, f'Empresas: {count}', ha='center', va='center', fontsize=body_size,
                color='#222222', zorder=5)
        ax.text(x, y + 47, rf'$\rho_{{rel}}$: {rho:+.2f}', ha='center', va='center',
                fontsize=body_size, color='#222222', zorder=5)


sns.set_theme(style='white', font='DejaVu Sans')
fig = plt.figure(figsize=(19.2, 12.18))
ax = fig.add_axes([0, 0, 1, 1])

# filled provinces, then the white borders through seaborn
rows = []
for province, rho in zip(PROVINCES, RHO_REL):
    for part, ring in enumerate(SHAPES[province]):
        xs, ys = zip(*ring)
        ax.fill(xs, ys, color=category_color(rho), linewidth=0, zorder=1 if rho is None else 2)
        if province in ISLANDS:
            continue
        for order, (x, y) in enumerate(ring + ring[:1]):
            rows.append({'ring': f'{province}-{part}', 'order': order, 'x': x, 'y': y})
borders = pd.DataFrame(rows)
sns.lineplot(data=borders, x='x', y='y', units='ring', estimator=None, sort=False,
             color='white', linewidth=0.85, legend=False, ax=ax, zorder=3)

cities = pd.DataFrame({'x': CITY_X, 'y': CITY_Y, 'name': CITY_NAMES})
sns.scatterplot(data=cities, x='x', y='y', hue='name', s=92, linewidth=0, legend=False, ax=ax,
                palette=[category_color(r) for r in CITY_RHO], zorder=4)
islets = pd.DataFrame({'x': ISLET_X, 'y': ISLET_Y, 'name': ISLET_NAMES})
sns.scatterplot(data=islets, x='x', y='y', hue='name', s=3, linewidth=0, legend=False, ax=ax,
                palette=[category_color(r) for r in ISLET_RHO], zorder=4)
for x, y, name, count, rho in zip(CITY_X, CITY_LABEL_Y, CITY_NAMES, CITY_EMPRESAS, CITY_RHO):
    draw_label(ax, x, y, name, count, rho, small=True)

for name, count, rho, x, y in zip(PROVINCES, EMPRESAS, RHO_REL, LABEL_X, LABEL_Y):
    draw_label(ax, x, y, name, count, rho)

ax.set_xlim(0, 3840)
ax.set_ylim(2436, 0)
ax.set_xlabel('')
ax.set_ylabel('')
ax.axis('off')

# header
ax.text(1861, 74, TITLE, ha='center', va='center', fontsize=16.4, fontweight='bold', color='black')
ax.text(1861, 168, NOTE_1, ha='center', va='center', fontsize=8.2, style='italic', color='black')
ax.text(1861, 197, NOTE_2, ha='center', va='center', fontsize=8.2, style='italic', color='black')

# left panel
LEFT = 160
ax.text(LEFT, 396, PANEL_TITLE, va='center', fontsize=11.9, fontweight='bold', color='black')
for y, line in zip([470, 502, 533], PANEL_SUBTITLE):
    ax.text(LEFT, y, line, va='center', fontsize=10, color='#111111')
ax.text(LEFT, 651, 'Total empresas: 264', va='center', fontsize=10.85, fontweight='bold', color='black')
ax.plot([LEFT, 764], [690, 690], color='#888888', linewidth=1)
ax.text(LEFT, 756, 'Top 3 empresas (empleados)', va='center', fontsize=9.1, color='#111111')
for y, line in zip([813, 857, 899], TOP_COMPANIES):
    ax.text(LEFT, y, line, va='center', fontsize=8.2, style='italic', color='#111111')
ax.text(LEFT, 996, 'Principales keywords', va='center', fontsize=9.1, fontweight='bold', color='black')
ax.text(LEFT, 1025, KEYWORDS, va='top', fontsize=8.2, color='#111111', linespacing=1.17)
ax.text(LEFT, 1348, 'Descripción del cluster', va='center', fontsize=9.1, fontweight='bold', color='black')
ax.text(LEFT, 1378, DESCRIPTION, va='top', fontsize=8.2, color='#444444', linespacing=1.165)

# legend
ax.text(3225, 1984, 'Referencias de colores', va='center', fontsize=10, color='#111111')
handles = [Patch(facecolor=c, edgecolor='none', label=l) for c, l in zip(CATEGORY_COLORS, CATEGORIES)]
ax.legend(handles=handles, loc='upper left', bbox_to_anchor=(3225, 2041), bbox_transform=ax.transData,
          frameon=False, fontsize=9.1, borderpad=0, borderaxespad=0, handlelength=1.94, handleheight=0.57,
          handletextpad=0.87, labelspacing=0.57, labelcolor='#111111')

fig.savefig('out.png', dpi=200, facecolor='white')
